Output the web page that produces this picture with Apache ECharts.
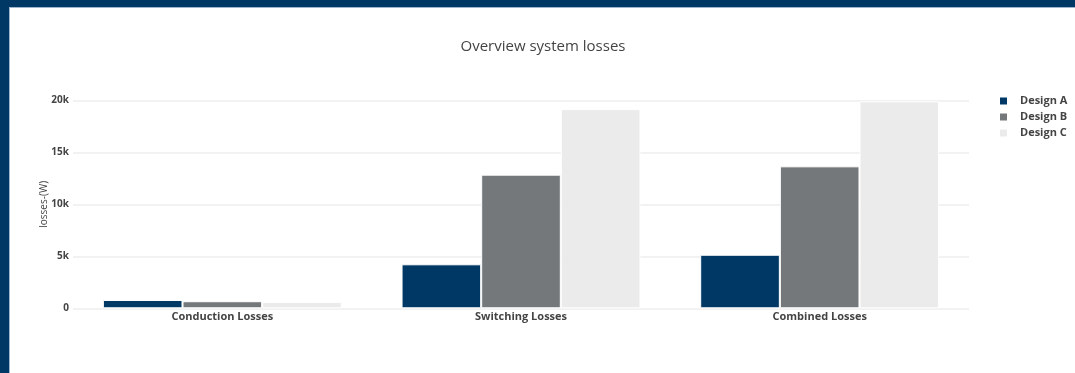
<!DOCTYPE html>
<html>
<head>
<meta charset="utf-8">
<script src="https://cdn.jsdelivr.net/npm/echarts@6/dist/echarts.min.js"></script>
<style>
  html, body { margin: 0; padding: 0; background: #fff; }
  #chart { position: absolute; left: 0; top: 0; width: 1075px; height: 373px; }
  .fr { position: absolute; pointer-events: none; }
</style>
</head>
<body>
<div id="chart"></div>
<div class="fr" style="left:0;top:0;width:1075px;height:7px;background:#003865;"></div>
<div class="fr" style="left:0;top:0;width:9px;height:373px;background:#003865;"></div>
<div class="fr" style="left:9px;top:7px;width:1066px;height:1px;background:#9db5cf;"></div>
<div class="fr" style="left:9px;top:7px;width:1px;height:366px;background:#9db5cf;"></div>
<script>
const categories = ['Conduction Losses', 'Switching Losses', 'Combined Losses'];
const seriesNames = ['Design A', 'Design B', 'Design C'];
const designA = [800, 4230, 5150];
const designB = [680, 12850, 13650];
const designC = [620, 19150, 19900];
const yTicks = [0, 5000, 10000, 15000, 20000];
const colors = ['#003865', '#75787b', '#ebebeb'];

const chart = echarts.init(document.getElementById('chart'));
const font = '"Open Sans", "DejaVu Sans", sans-serif';
const values = [designA, designB, designC];

chart.setOption({
  animation: false,
  title: {
    text: 'Overview system losses',
    left: 538, top: 34, textAlign: 'center',
    textStyle: { fontFamily: font, fontSize: 15, fontWeight: 'normal', color: '#444' }
  },
  legend: {
    orient: 'vertical', left: 993, top: 90,
    itemWidth: 9, itemHeight: 9, itemGap: 4,
    icon: 'rect',
    textStyle: { fontFamily: font, fontSize: 11, fontWeight: 'bold', color: '#444', lineHeight: 12, padding: [0, 0, 0, 7] },
    data: seriesNames
  },
  grid: { left: 73, right: 106, top: 100.3, bottom: 64.7, containLabel: false },
  xAxis: {
    type: 'category', data: categories,
    axisLine: { show: false }, axisTick: { show: false },
    axisLabel: { fontFamily: font, fontSize: 11, fontWeight: 'bold', color: '#444', margin: 3 }
  },
  yAxis: {
    type: 'value', min: yTicks[0], max: yTicks[yTicks.length - 1], interval: yTicks[1] - yTicks[0],
    name: 'losses-(W)', nameLocation: 'middle', nameGap: 24, nameRotate: 90, nameMoveOverlap: false,
    nameTextStyle: { fontFamily: font, fontSize: 10, color: '#444' },
    axisLine: { show: false }, axisTick: { show: false },
    splitLine: { lineStyle: { color: '#eeeeee', width: 1.5 } },
    axisLabel: {
      fontFamily: font, fontSize: 10, fontWeight: 'bold', color: '#444', margin: 4,
      formatter: v => v === 0 ? '0' : (v / 1000) + 'k'
    }
  },
  series: seriesNames.map((n, i) => ({
    name: n, type: 'bar', data: values[i],
    barCategoryGap: '20%', barGap: '0%',
    itemStyle: { color: colors[i], borderColor: '#ffffff', borderWidth: 1 }
  }))
});
</script>
</body>
</html>
